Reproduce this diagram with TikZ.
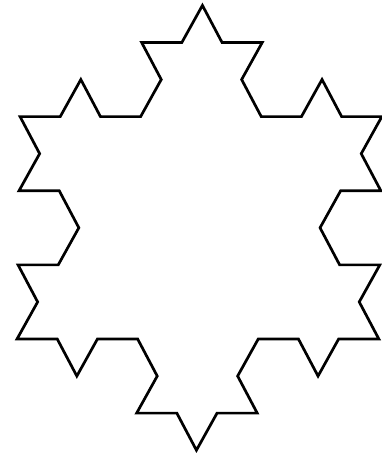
\documentclass[tikz,border=0pt]{standalone}
\usepackage{tikz}
\tikzset{
  kochline/.style={draw=black, line width=2.7pt, line join=miter},
}
\begin{document}
\begin{tikzpicture}[x=40.2pt, y=42.8pt]
    \useasboundingbox (0pt,0pt) rectangle (381pt,453pt);
    \begin{scope}[xshift=-3pt, xslant=0.0135]
    \coordinate (base) at (18.5pt,114pt);
    % Koch curve of order 2 on each side of the triangle
    \draw[kochline] (base)
      \foreach \h in {0,120,240} {
        \foreach \d in {0,-60,60,0,-60,-120,0,-60,60,0,120,60,0,-60,60,0} {
          -- ++(\h+\d:1)
        }
      } -- cycle;
    \end{scope}
\end{tikzpicture}
\end{document}
